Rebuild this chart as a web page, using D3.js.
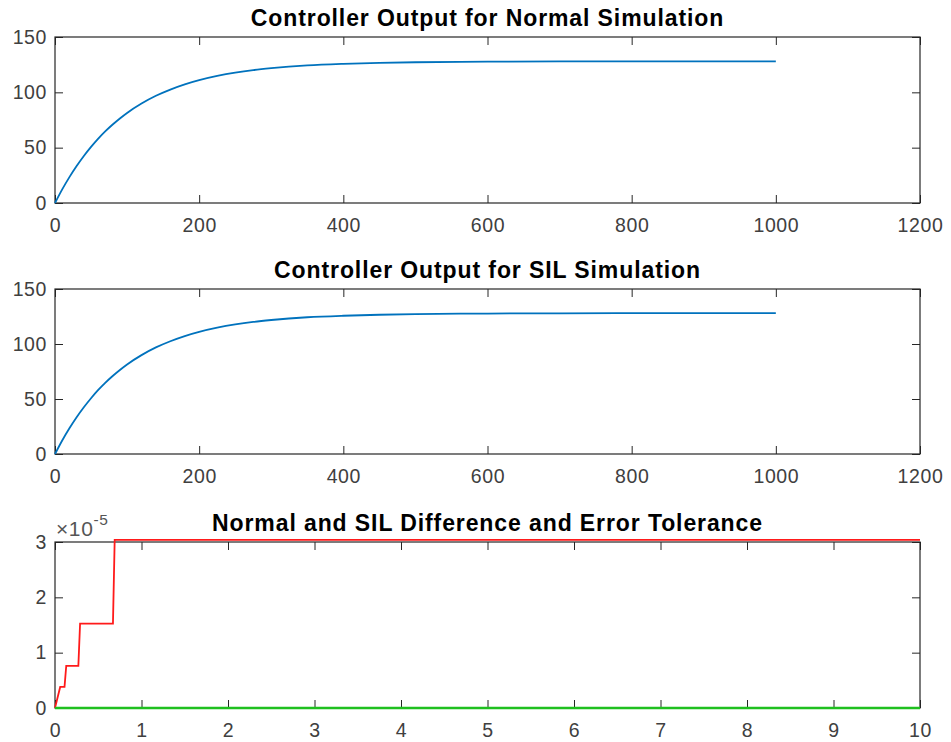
<!DOCTYPE html>
<html>
<head>
<meta charset="utf-8">
<script src="https://cdn.jsdelivr.net/npm/d3@7"></script>
<style>
  html, body { margin: 0; padding: 0; background: #fff; }
  svg { display: block; font-family: "Liberation Sans", Arial, Helvetica, sans-serif; }
</style>
</head>
<body>
<svg id="chart" width="951" height="742"></svg>
<script>
// ---- Data ----
const titles = [
  "Controller Output for Normal Simulation",
  "Controller Output for SIL Simulation",
  "Normal and SIL Difference and Error Tolerance"
];
const outTime = [0,10,20,30,40,50,60,70,80,90,100,120,140,160,180,200,225,250,275,300,350,400,450,500,600,700,800,900,1000];
const normalOut = [0,12.3,23.4,33.4,42.5,50.7,58.2,64.9,70.9,76.4,81.4,89.9,96.9,102.5,107.2,111.0,114.8,117.8,120.1,121.8,124.3,125.7,126.6,127.2,127.7,127.9,128.0,128.0,128.0];
const silOut    = [0,12.3,23.4,33.4,42.5,50.7,58.2,64.9,70.9,76.4,81.4,89.9,96.9,102.5,107.2,111.0,114.8,117.8,120.1,121.8,124.3,125.7,126.6,127.2,127.7,127.9,128.0,128.0,128.0];
const outXTicks = [0,200,400,600,800,1000,1200];
const outYTicks = [0,50,100,150];

const diffTime = [0,1,2,3,4,5,6,7,8,9,10];
const diffVal  = [0,0,0,0,0,0,0,0,0,0,0];
const tolTime  = [0,0.06,0.11,0.13,0.27,0.29,0.67,0.69,10];
const tolVal   = [0,0.381e-5,0.381e-5,0.763e-5,0.763e-5,1.526e-5,1.526e-5,3.04e-5,3.04e-5];
const diffXTicks = [0,1,2,3,4,5,6,7,8,9,10];
const diffYTicks = [0,1e-5,2e-5,3e-5];

// ---- Layout ----
const svg = d3.select("#chart");
const left = 55, right = 920;
const panels = [
  {top: 37, bottom: 203, xDom: [0,1200], yDom: [0,150], xt: outXTicks, yt: outYTicks, fmtY: d => d},
  {top: 289, bottom: 454, xDom: [0,1200], yDom: [0,150], xt: outXTicks, yt: outYTicks, fmtY: d => d},
  {top: 542, bottom: 708, xDom: [0,10], yDom: [0,3e-5], xt: diffXTicks, yt: diffYTicks, fmtY: d => Math.round(d*1e5)}
];
const axisColor = "#262626";
const tickLen = 8;

panels.forEach((p, i) => {
  const x = d3.scaleLinear().domain(p.xDom).range([left, right]);
  const y = d3.scaleLinear().domain(p.yDom).range([p.bottom, p.top]);
  p.x = x; p.y = y;
  const g = svg.append("g");

  const styleAxis = sel => {
    sel.select(".domain").remove();
    sel.selectAll(".tick line").attr("stroke", axisColor).attr("stroke-width", 1);
    sel.selectAll(".tick text").attr("fill", "#404040").attr("font-size", "19.5px")
      .attr("font-family", "Liberation Sans, Arial, sans-serif").style("letter-spacing", "0.6px");
  };
  g.append("g").attr("transform", `translate(0,${p.bottom})`)
    .call(d3.axisBottom(x).tickValues(p.xt).tickSizeInner(-tickLen).tickSizeOuter(0).tickPadding(15).tickFormat(d => d))
    .call(styleAxis);
  g.append("g").attr("transform", `translate(0,${p.top})`)
    .call(d3.axisTop(x).tickValues(p.xt).tickSizeInner(-tickLen).tickSizeOuter(0).tickFormat(""))
    .call(styleAxis);
  g.append("g").attr("transform", `translate(${left},0)`)
    .call(d3.axisLeft(y).tickValues(p.yt).tickSizeInner(-tickLen).tickSizeOuter(0).tickPadding(8).tickFormat(p.fmtY))
    .call(styleAxis);
  g.append("g").attr("transform", `translate(${right},0)`)
    .call(d3.axisRight(y).tickValues(p.yt).tickSizeInner(-tickLen).tickSizeOuter(0).tickFormat(""))
    .call(styleAxis);

  g.append("rect").attr("x", left).attr("y", p.top)
    .attr("width", right - left).attr("height", p.bottom - p.top)
    .attr("fill", "none").attr("stroke", axisColor).attr("stroke-width", 1.2);

  svg.append("text").attr("x", (left + right) / 2).attr("y", p.top - 11)
    .attr("text-anchor", "middle").attr("font-weight", "bold").attr("font-size", "23px")
    .style("letter-spacing", "0.9px")
    .attr("fill", "#000").text(titles[i]);
});

// ---- Lines ----
const line = (p, xs, ys, curve) => d3.line()
  .x((d, i) => p.x(xs[i])).y((d, i) => p.y(ys[i])).curve(curve)(xs);

svg.append("path").attr("d", line(panels[0], outTime, normalOut, d3.curveMonotoneX))
  .attr("fill", "none").attr("stroke", "#0072BD").attr("stroke-width", 1.8);
svg.append("path").attr("d", line(panels[1], outTime, silOut, d3.curveMonotoneX))
  .attr("fill", "none").attr("stroke", "#0072BD").attr("stroke-width", 1.8);
svg.append("path").attr("d", line(panels[2], tolTime, tolVal, d3.curveLinear))
  .attr("fill", "none").attr("stroke", "#ff1a1a").attr("stroke-width", 1.8);
svg.append("path").attr("d", line(panels[2], diffTime, diffVal, d3.curveLinear))
  .attr("fill", "none").attr("stroke", "#1fc01f").attr("stroke-width", 2.4);

// exponent label
const expT = svg.append("text").attr("x", 56).attr("y", 536)
  .attr("font-size", "21px").attr("fill", "#555").style("letter-spacing", "0.6px");
expT.append("tspan").text("\u00d710");
expT.append("tspan").attr("font-size", "15.5px").attr("dy", -11).text("-5");
</script>
</body>
</html>
